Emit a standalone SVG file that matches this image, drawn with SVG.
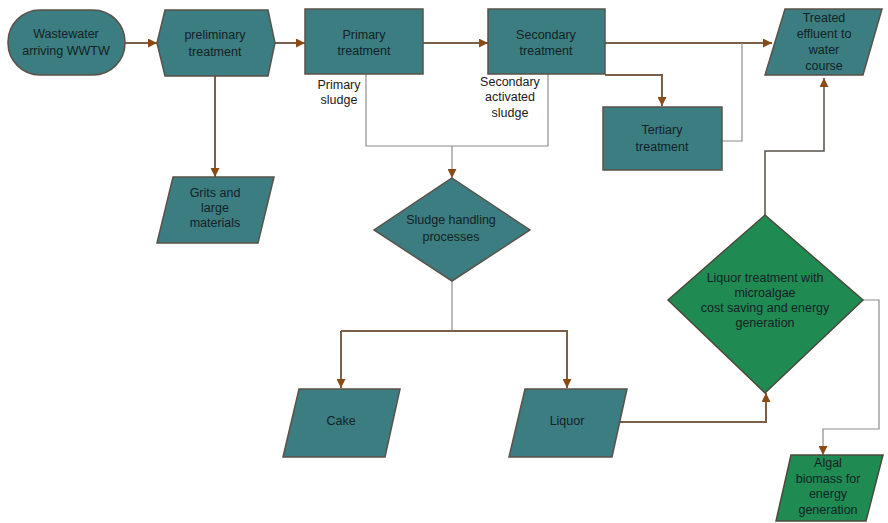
<svg xmlns="http://www.w3.org/2000/svg" width="888" height="523" viewBox="0 0 888 523">
  <style>
    .teal { fill: #3b7d80; stroke: #5a524a; stroke-width: 1.5; }
    .green { fill: #1f8a52; stroke: #4a4a3a; stroke-width: 1.5; }
    .lbl { font-family: "Liberation Sans", Arial, sans-serif; font-size: 12.5px; fill: #132226; text-anchor: middle; }
    .note { font-family: "Liberation Sans", Arial, sans-serif; font-size: 12.5px; fill: #1a1a1a; text-anchor: middle; }
    .flow { fill: none; stroke: #7a6048; stroke-width: 2; }
    .thin { fill: none; stroke: #8c8c8c; stroke-width: 1.2; }
    .dark { fill: none; stroke: #55504a; stroke-width: 1.5; }
  </style>
  <defs>
    <marker id="arrow" viewBox="0 0 10 10" refX="10" refY="5" markerWidth="9" markerHeight="9" orient="auto" markerUnits="userSpaceOnUse">
      <path d="M0,0 L10,5 L0,10 z" fill="#8a4a14"/>
    </marker>
  </defs>
  <rect width="888" height="523" fill="#ffffff"/>

  <!-- connectors -->
  <g id="connectors">
    <line class="flow" x1="125" y1="43" x2="157" y2="43" marker-end="url(#arrow)"/>
    <line class="flow" x1="275" y1="43" x2="305" y2="43" marker-end="url(#arrow)"/>
    <line class="flow" x1="423" y1="43" x2="488" y2="43" marker-end="url(#arrow)"/>
    <line class="flow" x1="605" y1="43" x2="772" y2="43" marker-end="url(#arrow)"/>
    <line class="flow" x1="215" y1="76" x2="215" y2="177" marker-end="url(#arrow)"/>
    <polyline class="flow" points="605,75 662,75 662,106" marker-end="url(#arrow)"/>
    <polyline class="thin" points="722,141 742,141 742,43"/>
    <polyline class="thin" points="366,74 366,146 548,146 548,74"/>
    <line class="thin" x1="452" y1="146" x2="452" y2="178" marker-end="url(#arrow)"/>
    <line class="thin" x1="452" y1="281" x2="452" y2="331"/>
    <polyline class="flow" points="341,331 567,331 567,388" marker-end="url(#arrow)"/>
    <line class="flow" x1="341" y1="331" x2="341" y2="388" marker-end="url(#arrow)"/>
    <polyline class="flow" points="620,422 766,422 766,393" marker-end="url(#arrow)"/>
    <polyline class="dark" points="765,215 765,151 824,151 824,78" marker-end="url(#arrow)"/>
    <polyline class="thin" points="863,300 879,300 879,429 823,429 823,455" marker-end="url(#arrow)"/>
  </g>

  <g id="wastewater">
    <rect class="teal" x="8" y="10" width="117" height="65" rx="32" ry="32"/>
    <text class="lbl" x="66" y="38">Wastewater</text>
    <text class="lbl" x="66" y="55">arriving WWTW</text>
  </g>

  <g id="preliminary">
    <polygon class="teal" points="157,43 165,10 268,10 275,43 268,76 165,76"/>
    <text class="lbl" x="215" y="39">preliminary</text>
    <text class="lbl" x="215" y="56">treatment</text>
  </g>

  <g id="primary">
    <rect class="teal" x="305" y="9" width="118" height="65"/>
    <text class="lbl" x="364" y="39">Primary</text>
    <text class="lbl" x="364" y="55">treatment</text>
  </g>

  <g id="secondary">
    <rect class="teal" x="488" y="9" width="117" height="65"/>
    <text class="lbl" x="546" y="39">Secondary</text>
    <text class="lbl" x="546" y="55">treatment</text>
  </g>

  <g id="effluent">
    <polygon class="teal" points="785,9 882,9 863,75 765,75"/>
    <text class="lbl" x="824" y="22">Treated</text>
    <text class="lbl" x="824" y="38">effluent to</text>
    <text class="lbl" x="824" y="54">water</text>
    <text class="lbl" x="824" y="70">course</text>
  </g>

  <g id="tertiary">
    <rect class="teal" x="603" y="107" width="119" height="63"/>
    <text class="lbl" x="662" y="134">Tertiary</text>
    <text class="lbl" x="662" y="151">treatment</text>
  </g>

  <g id="primary-sludge-label">
    <text class="note" x="339" y="89">Primary</text>
    <text class="note" x="339" y="104">sludge</text>
  </g>

  <g id="secondary-sludge-label">
    <text class="note" x="510" y="86">Secondary</text>
    <text class="note" x="510" y="101">activated</text>
    <text class="note" x="510" y="117">sludge</text>
  </g>

  <g id="grits">
    <polygon class="teal" points="173,177 274,177 258,243 157,243"/>
    <text class="lbl" x="215" y="197">Grits and</text>
    <text class="lbl" x="215" y="212">large</text>
    <text class="lbl" x="215" y="227">materials</text>
  </g>

  <g id="sludge-handling">
    <polygon class="teal" points="452,178 530,230 452,281 374,230"/>
    <text class="lbl" x="451" y="224">Sludge handling</text>
    <text class="lbl" x="451" y="241">processes</text>
  </g>

  <g id="cake">
    <polygon class="teal" points="299,389 400,389 385,457 283,457"/>
    <text class="lbl" x="341" y="425">Cake</text>
  </g>

  <g id="liquor">
    <polygon class="teal" points="525,389 627,389 612,457 509,457"/>
    <text class="lbl" x="567" y="425">Liquor</text>
  </g>

  <g id="liquor-treatment">
    <polygon class="green" points="765,215 863,300 765,393 668,300"/>
    <text class="lbl" x="765" y="282">Liquor treatment with</text>
    <text class="lbl" x="765" y="297">microalgae</text>
    <text class="lbl" x="765" y="312">cost saving and energy</text>
    <text class="lbl" x="765" y="327">generation</text>
  </g>

  <g id="algal-biomass">
    <polygon class="green" points="791,455 883,455 866,521 776,521"/>
    <text class="lbl" x="828" y="467">Algal</text>
    <text class="lbl" x="828" y="483">biomass for</text>
    <text class="lbl" x="828" y="498">energy</text>
    <text class="lbl" x="828" y="514">generation</text>
  </g>
</svg>
